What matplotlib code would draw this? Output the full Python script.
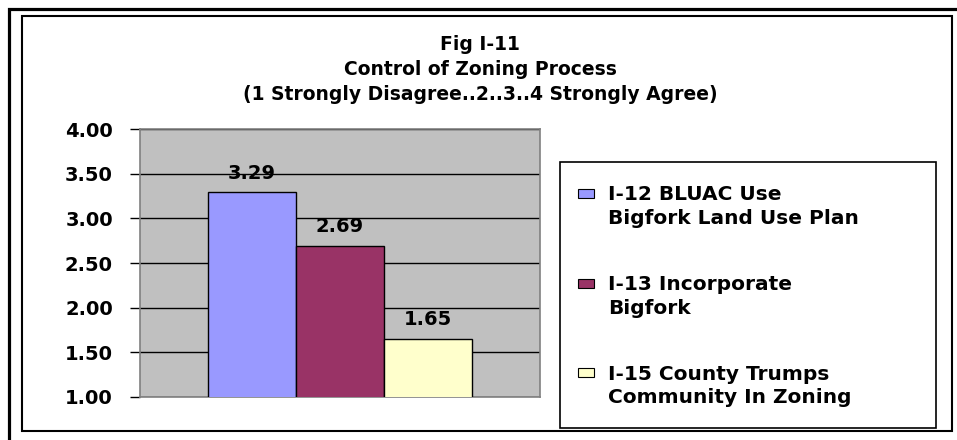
import matplotlib.pyplot as plt
from matplotlib.patches import Rectangle

# data
labels = ['I-12 BLUAC Use\nBigfork Land Use Plan',
          'I-13 Incorporate\nBigfork',
          'I-15 County Trumps\nCommunity In Zoning']
values = [3.29, 2.69, 1.65]
colors = ['#9999FF', '#993366', '#FFFFCC']
title_lines = ['Fig I-11', 'Control of Zoning Process',
               '(1 Strongly Disagree..2..3..4 Strongly Agree)']
yticks = [1.0, 1.5, 2.0, 2.5, 3.0, 3.5, 4.0]

plt.rcParams['font.family'] = ['DejaVu Sans']
plt.rcParams['font.weight'] = 'bold'

W, H = 957, 440
fig = plt.figure(figsize=(W / 100, H / 100), dpi=100)

def fx(px):
    return px / W

def fy(py):
    return 1 - py / H

# frames
fig.add_artist(Rectangle((fx(9), fy(460)), fx(980), 451 / H, transform=fig.transFigure,
                         fill=False, edgecolor='black', linewidth=2.3))
fig.add_artist(Rectangle((fx(22), fy(431)), fx(930), 415 / H, transform=fig.transFigure,
                         fill=False, edgecolor='black', linewidth=1.5))

# axes
ax = fig.add_axes([fx(140), fy(397), fx(400), (397 - 129) / H])
ax.set_facecolor('#C0C0C0')
x = list(range(len(values)))
ax.bar(x, values, width=1.0, bottom=0, color=colors, edgecolor='black',
       linewidth=1.0, zorder=3)
for xi, v in zip(x, values):
    ax.annotate(f'{v:.2f}', (xi, v), xytext=(0, 10), textcoords='offset points',
                ha='center', va='baseline', fontsize=14, fontweight='bold', zorder=4)
ax.set_ylim(1, 4)
ax.set_xlim(-1.27, 3.27)
ax.set_yticks(yticks)
ax.set_yticklabels([f'{t:.2f}' for t in yticks], fontsize=14, fontweight='bold')
ax.set_xticks([])
ax.yaxis.grid(True, color='black', linewidth=1.0, zorder=1)
ax.set_axisbelow(True)
for s in ax.spines.values():
    s.set_color('#808080')
    s.set_linewidth(1.2)
ax.tick_params(axis='y', length=7.5, width=1.0, color='black', pad=12)

# title
for i, line in enumerate(title_lines):
    fig.text(fx(480), fy(50 + 25 * i), line, ha='center', va='baseline',
             fontsize=13.5, fontweight='bold')

# legend box
fig.add_artist(Rectangle((fx(560), fy(428)), fx(376), 266 / H, transform=fig.transFigure,
                         fill=False, edgecolor='black', linewidth=1.2))
for i, (lab, c) in enumerate(zip(labels, colors)):
    base = 201 + 89.5 * i
    fig.add_artist(Rectangle((fx(578), fy(base - 3)), fx(16), 9 / H,
                             transform=fig.transFigure, facecolor=c,
                             edgecolor='black', linewidth=0.8))
    fig.text(fx(608), fy(base + 23), lab, ha='left', va='baseline', fontsize=14.5,
             fontweight='bold', linespacing=1.3)

plt.savefig('out.png', dpi=100)
